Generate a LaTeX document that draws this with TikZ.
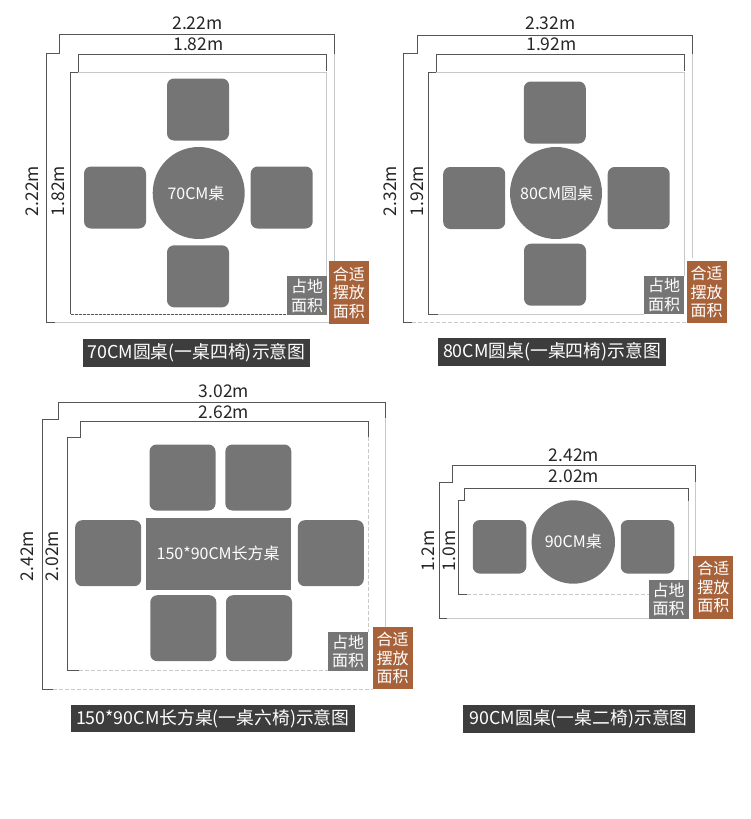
\documentclass[tikz,border=0pt]{standalone}
\usepackage{fontspec}
\setmainfont{Noto Sans CJK SC}
\definecolor{seatgray}{HTML}{757575}
\definecolor{dimgray}{HTML}{555555}
\definecolor{palegray}{HTML}{C8C8C8}
\definecolor{capgray}{HTML}{3D3D3D}
\definecolor{fitbrown}{HTML}{A8623A}
\tikzset{
  dark/.style={draw=dimgray,line width=1pt},
  pale/.style={draw=palegray,line width=1pt},
  paledash/.style={pale,dash pattern=on 4pt off 2pt},
  darkdash/.style={dark,dash pattern=on 3pt off 1pt},
  chair/.style={fill=seatgray,rounded corners=7pt,inner sep=0pt,minimum size=#1},
  disc/.style={circle,fill=seatgray,inner sep=0pt,minimum size=#1},
  tabletext/.style={text=white,inner sep=0pt,font=\fontsize{16}{18}\selectfont},
  dimtext/.style={text=black!85,inner sep=0pt,font=\fontsize{17.5}{20}\selectfont},
  areabox/.style={fill=seatgray,text=white,inner sep=0pt,align=center,minimum width=40pt,minimum height=38.5pt,font=\fontsize{16}{18.5}\selectfont},
  fitbox/.style={fill=fitbrown,text=white,inner sep=0pt,align=center,minimum width=40pt,font=\fontsize{16}{18.5}\selectfont},
  capbox/.style={fill=capgray,text=white,inner sep=0pt,minimum height=27.5pt,font=\fontsize{17.8}{20}\selectfont},
}
\begin{document}
\begin{tikzpicture}[x=1pt,y=-1pt]
\path[use as bounding box] (0,0) rectangle (750,819);
% 70CM
\draw[dark] (46,53)--(59.7,53)--(59.7,34.7)--(334.3,34.7)--(334.3,53.5);
\draw[pale] (334.3,53.5)--(334.3,262);
\draw[dark] (46,53)--(46,322.7)--(55,322.7);
\draw[pale] (55,322.7)--(329,322.7);
\draw[dark] (70.7,72)--(78,72)--(78,54)--(326.7,54)--(326.7,71);
\draw[pale] (78,72)--(326.7,72)--(326.7,277);
\draw[dark] (70.7,72)--(70.7,314.3);
\draw[darkdash] (70.7,314.3)--(287,314.3);
\node[chair=62pt] (chairAn) at (198,109.5) {};
\node[chair=62pt] (chairAw) at (115,197.5) {};
\node[chair=62pt] (chairAe) at (281.7,197.5) {};
\node[chair=62pt] (chairAs) at (198,276.3) {};
\node[disc=92pt] (tableA) at (198.7,193) {};
\node[tabletext] (nameA) at (196,193.5) {70CM桌};
\node[areabox] (areaA) at (307,295.7) {占地\\面积};
\node[fitbox,minimum height=62.7pt] (fitA) at (348.8,292.7) {合适\\摆放\\面积};
\node[dimtext] (wideA) at (197.5,23) {2.22m};
\node[dimtext] (wideAa) at (198.5,44) {1.82m};
\node[dimtext,rotate=90] (highA) at (32,191) {2.22m};
\node[dimtext,rotate=90] (highAa) at (58,191) {1.82m};
\node[capbox,minimum width=227.6pt] (capA) at (196.5,353) {70CM圆桌(一桌四椅)示意图};
% 80CM
\draw[dark] (403,53)--(417,53)--(417,35)--(692.3,35)--(692.3,54);
\draw[pale] (692.3,54)--(692.3,258);
\draw[dark] (403,53)--(403,322.7)--(412,322.7);
\draw[paledash] (412,322.7)--(686,322.7);
\draw[dark] (428,72)--(436,72)--(436,54)--(684.3,54)--(684.3,71);
\draw[pale] (436,72)--(684.3,72)--(684.3,276);
\draw[dark] (428,72)--(428,314.3)--(438,314.3);
\draw[pale] (438,314.3)--(644,314.3);
\node[chair=62pt] (chairBn) at (554.8,112.5) {};
\node[chair=62pt] (chairBw) at (474.2,198) {};
\node[chair=62pt] (chairBe) at (638.7,198) {};
\node[chair=62pt] (chairBs) at (555,274.7) {};
\node[disc=92pt] (tableB) at (556,193) {};
\node[tabletext] (nameB) at (556.7,193) {80CM圆桌};
\node[areabox] (areaB) at (664,295) {占地\\面积};
\node[fitbox,minimum height=62.6pt] (fitB) at (706.5,292) {合适\\摆放\\面积};
\node[dimtext] (wideB) at (550.5,23) {2.32m};
\node[dimtext] (wideBa) at (551.5,44) {1.92m};
\node[dimtext,rotate=90] (highB) at (390,191) {2.32m};
\node[dimtext,rotate=90] (highBa) at (417,191) {1.92m};
\node[capbox,minimum width=228pt] (capB) at (552,352) {80CM圆桌(一桌四椅)示意图};
% 150*90CM
\draw[dark] (42,419.7)--(58.7,419.7)--(58.7,402.7)--(385.3,402.7)--(385.3,418.3);
\draw[pale] (385.3,418.3)--(385.3,627);
\draw[dark] (42,419.7)--(42,689.3)--(53,689.3);
\draw[paledash] (53,689.3)--(372.7,689.3);
\draw[dark] (67.7,437.3)--(80.7,437.3)--(80.7,421)--(368,421)--(368,437.3);
\draw[paledash] (368,437.3)--(368,632);
\draw[dark] (67.7,437.3)--(67.7,670)--(79,670);
\draw[paledash] (79,670)--(328,670);
\node[chair=66pt] (chairCa) at (182.5,477.5) {};
\node[chair=66pt] (chairCb) at (258.3,477.5) {};
\node[chair=66pt] (chairCw) at (108.2,553.2) {};
\node[chair=66pt] (chairCe) at (330.8,553.2) {};
\node[chair=66pt] (chairCc) at (183.3,628.2) {};
\node[chair=66pt] (chairCd) at (259,628.2) {};
\node[fill=seatgray,tabletext,minimum width=145pt,minimum height=72.3pt] (tableC) at (218.2,553.8) {150*90CM长方桌};
\node[areabox] (areaC) at (348,651.5) {占地\\面积};
\node[fitbox,minimum height=62pt] (fitC) at (392.7,658.3) {合适\\摆放\\面积};
\node[dimtext] (wideC) at (224,391) {3.02m};
\node[dimtext] (wideCa) at (224,412) {2.62m};
\node[dimtext,rotate=90] (highC) at (27,556) {2.42m};
\node[dimtext,rotate=90] (highCa) at (52,556) {2.02m};
\node[capbox,minimum width=284.3pt] (capC) at (212.8,718.7) {150*90CM长方桌(一桌六椅)示意图};
% 90CM
\draw[dark] (439.3,482.3)--(452,482.3)--(452,465.3)--(695.7,465.3)--(695.7,482.3);
\draw[pale] (695.7,482.3)--(695.7,556);
\draw[dark] (439.3,482.3)--(439.3,618.7)--(447,618.7);
\draw[pale] (447,618.7)--(649,618.7);
\draw[dark] (458.3,500.7)--(464.7,500.7)--(464.7,488.3)--(688.3,488.3)--(688.3,500.7);
\draw[pale] (688.3,500.7)--(688.3,580);
\draw[dark] (458.3,500.7)--(458.3,594)--(467,594);
\draw[paledash] (467,594)--(649,594);
\node[chair=53.5pt] (chairDw) at (499.5,546.8) {};
\node[chair=53.5pt] (chairDe) at (647.5,546.8) {};
\node[disc=83.4pt] (tableD) at (573.3,542) {};
\node[tabletext] (nameD) at (573.3,541) {90CM桌};
\node[areabox] (areaD) at (668.5,599.5) {占地\\面积};
\node[fitbox,minimum height=62.7pt] (fitD) at (713.3,587.3) {合适\\摆放\\面积};
\node[dimtext] (wideD) at (574,455) {2.42m};
\node[dimtext] (wideDa) at (574,476) {2.02m};
\node[dimtext,rotate=90] (highD) at (428,551) {1.2m};
\node[dimtext,rotate=90] (highDa) at (449,551) {1.0m};
\node[capbox,minimum width=232pt] (capD) at (578.7,719) {90CM圆桌(一桌二椅)示意图};
\end{tikzpicture}
\end{document}
